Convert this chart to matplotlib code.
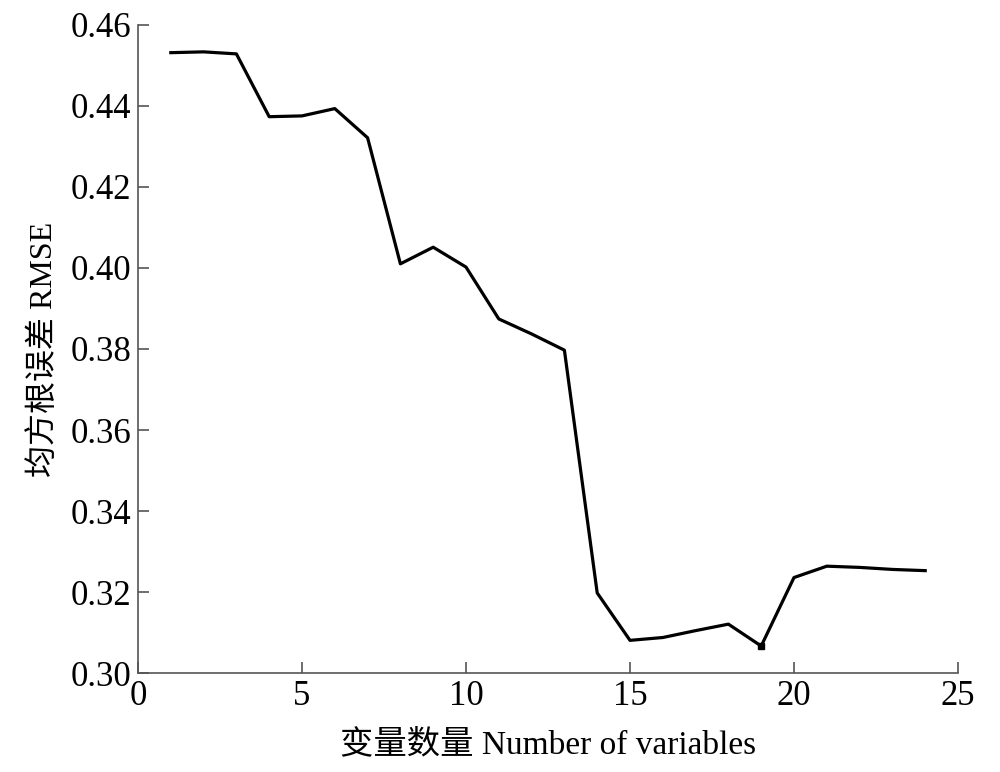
import matplotlib.pyplot as plt

n_vars = [1, 2, 3, 4, 5, 6, 7, 8, 9, 10, 11, 12, 13, 14, 15, 16, 17, 18, 19, 20, 21, 22, 23, 24]
rmse = [0.4531, 0.4533, 0.4528, 0.4373, 0.4375, 0.4393, 0.4321, 0.4010, 0.4051, 0.4002,
        0.3874, 0.3837, 0.3797, 0.3198, 0.3081, 0.3088, 0.3105, 0.3121, 0.3067, 0.3236,
        0.3264, 0.3261, 0.3256, 0.3253]
best_n = 19
best_rmse = 0.3067

fonts = ['Liberation Serif', 'Noto Sans CJK SC']
plt.rcParams['font.family'] = fonts
plt.rcParams['font.size'] = 25

fig = plt.figure(figsize=(10, 7.72), dpi=100)
ax = fig.add_axes([0.138, 0.128, 0.820, 0.840])

ax.plot(n_vars, rmse, color='black', linewidth=2.3)
ax.plot([best_n], [best_rmse], marker='s', color='black', markersize=5)

ax.set_xlim(0, 25)
ax.set_ylim(0.30, 0.46)
ax.set_xticks([0, 5, 10, 15, 20, 25])
ax.set_yticks([0.30, 0.32, 0.34, 0.36, 0.38, 0.40, 0.42, 0.44, 0.46])
ax.set_yticklabels([f'{v:.2f}' for v in ax.get_yticks()])

ax.spines['top'].set_visible(False)
ax.spines['right'].set_visible(False)
for s in ['left', 'bottom']:
    ax.spines[s].set_color('#555555')
    ax.spines[s].set_linewidth(1.2)
ax.tick_params(direction='in', length=8, width=1.2, color='#555555', labelcolor='black', pad=5)

ax.set_xlabel('变量数量 Number of variables', fontsize=24, labelpad=12)
ax.set_ylabel('均方根误差 RMSE', fontsize=23, labelpad=8)

fig.savefig('out.png', dpi=100)
